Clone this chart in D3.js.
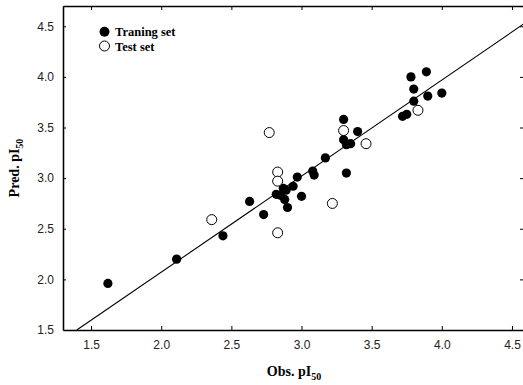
<!DOCTYPE html>
<html><head><meta charset="utf-8">
<script src="https://cdn.jsdelivr.net/npm/d3@7"></script>
<style>body{margin:0;background:#fff}svg{display:block}</style>
</head><body>
<svg id="c" width="523" height="385"></svg>
<script>
const trainObs  = [1.62,2.11,2.44,2.63,2.73,2.82,2.85,2.87,2.89,2.94,2.88,2.90,3.00,2.97,3.08,3.09,3.17,3.32,3.30,3.40,3.30,3.32,3.35,3.72,3.75,3.78,3.89,3.80,3.80,3.90,4.00];
const trainPred = [1.96,2.20,2.43,2.77,2.64,2.84,2.83,2.90,2.88,2.92,2.79,2.71,2.82,3.01,3.07,3.03,3.20,3.05,3.58,3.46,3.38,3.33,3.34,3.61,3.63,4.00,4.05,3.88,3.76,3.81,3.84];
const testObs   = [2.36,2.77,2.83,2.83,2.83,3.22,3.30,3.46,3.83];
const testPred  = [2.59,3.45,3.06,2.97,2.46,2.75,3.47,3.34,3.67];
const xTicks = [1.5,2.0,2.5,3.0,3.5,4.0,4.5];
const yTicks = [1.5,2.0,2.5,3.0,3.5,4.0,4.5];
const fitSlope = 0.949, fitIntercept = 0.173;
const fitRange = [1.398, 4.6];

const svg = d3.select('#c');
const L = 63, R = 526, T = 6, B = 330;
const x = d3.scaleLinear().domain([1.3, 4.6]).range([L, R]);
const y = d3.scaleLinear().domain([1.5, 4.7]).range([B, T]);
const fmt = d3.format('.1f');

// axes
const gx = svg.append('g').attr('transform', `translate(0,${B})`)
  .call(d3.axisBottom(x).tickValues(xTicks).tickFormat(fmt).tickSizeInner(-4).tickSizeOuter(0).tickPadding(10));
const gxt = svg.append('g').attr('transform', `translate(0,${T})`)
  .call(d3.axisTop(x).tickValues(xTicks).tickFormat('').tickSizeInner(-4).tickSizeOuter(0));
const gy = svg.append('g').attr('transform', `translate(${L},0)`)
  .call(d3.axisLeft(y).tickValues(yTicks.filter(v=>v>1.5)).tickFormat(fmt).tickSizeInner(-3).tickSizeOuter(0).tickPadding(9));
const gy0 = svg.append('g').attr('transform', `translate(${L},0)`)
  .call(d3.axisLeft(y).tickValues([1.5]).tickFormat(fmt).tickSize(0).tickPadding(9));
const gyr = svg.append('g').attr('transform', `translate(${R},0)`)
  .call(d3.axisRight(y).tickValues(yTicks.filter(v=>v>1.5)).tickFormat('').tickSizeInner(-6).tickSizeOuter(0));
[gx,gxt,gy,gy0,gyr].forEach(g=>{
  g.selectAll('path.domain').attr('stroke','#000').attr('stroke-width',1.3);
  g.selectAll('line').attr('stroke','#000').attr('stroke-width',1);
  g.selectAll('text').attr('fill','#222').style('font-family','Liberation Sans, Arial, sans-serif').style('font-size','12px');
});

// fit line
svg.append('line')
  .attr('x1', x(fitRange[0])).attr('y1', y(fitSlope*fitRange[0]+fitIntercept))
  .attr('x2', x(fitRange[1])).attr('y2', y(fitSlope*fitRange[1]+fitIntercept))
  .attr('stroke','#000').attr('stroke-width',1.1);

// points
svg.append('g').selectAll('circle').data(trainObs.map((v,i)=>[v,trainPred[i]])).join('circle')
  .attr('cx',d=>x(d[0])).attr('cy',d=>y(d[1])).attr('r',4.6).attr('fill','#000');
svg.append('g').selectAll('circle').data(testObs.map((v,i)=>[v,testPred[i]])).join('circle')
  .attr('cx',d=>x(d[0])).attr('cy',d=>y(d[1])).attr('r',5).attr('fill','#fff').attr('stroke','#000').attr('stroke-width',1);

// legend
const lg = svg.append('g').style('font-family','Liberation Serif, Times New Roman, serif').style('font-weight','bold').style('font-size','12.5px');
lg.append('circle').attr('cx',104.5).attr('cy',31.7).attr('r',5).attr('fill','#000');
lg.append('text').attr('x',115).attr('y',36).text('Traning set');
lg.append('circle').attr('cx',104.5).attr('cy',46).attr('r',5).attr('fill','#fff').attr('stroke','#000');
lg.append('text').attr('x',115).attr('y',50.5).text('Test set');

// axis titles
const xt = svg.append('text').attr('x',294).attr('y',376).attr('text-anchor','middle')
  .style('font-family','Liberation Serif, Times New Roman, serif').style('font-weight','bold').style('font-size','14px');
xt.append('tspan').text('Obs. pI');
xt.append('tspan').attr('dy',4).style('font-size','10px').text('50');
const yt = svg.append('text').attr('transform','translate(19,168) rotate(-90)').attr('text-anchor','middle')
  .style('font-family','Liberation Serif, Times New Roman, serif').style('font-weight','bold').style('font-size','14px');
yt.append('tspan').text('Pred. pI');
yt.append('tspan').attr('dy',4).style('font-size','10px').text('50');
</script>
</body></html>
